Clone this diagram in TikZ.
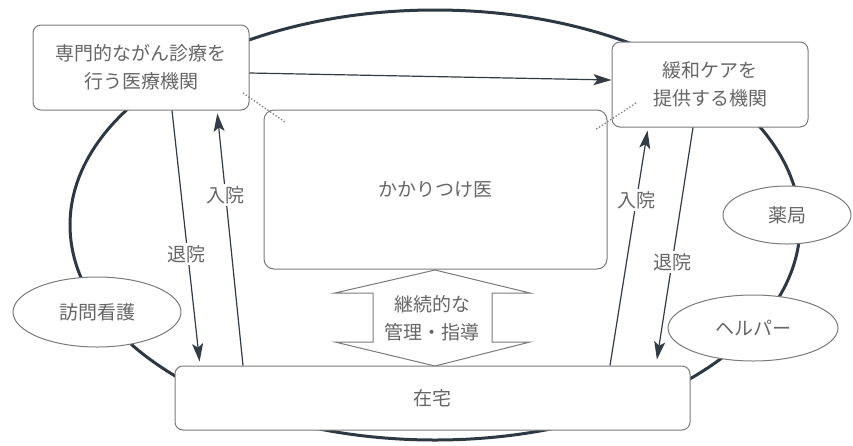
\documentclass[tikz,border=0pt]{standalone}
\usepackage{fontspec}
\newfontfamily\jp{Noto Sans CJK JP}
\usetikzlibrary{arrows.meta,shapes.geometric}
\definecolor{txt}{HTML}{666666}
\definecolor{edge}{HTML}{7A7A7A}
\definecolor{arrowc}{HTML}{333B44}
\definecolor{ringc}{HTML}{2E3843}
\begin{document}
\begin{tikzpicture}[x=1pt,y=-1pt,
  every node/.style={font=\jp\fontsize{19}{28}\selectfont, text=txt},
  box/.style={draw=edge, line width=1pt, rounded corners=8pt, fill=white, align=center, inner sep=0pt},
  oval/.style={draw=edge, line width=1pt, ellipse, fill=white, inner sep=0pt},
  ringline/.style={draw=ringc, line width=3pt},
  arr/.style={draw=arrowc, line width=1.2pt, -{Stealth[length=18pt,width=11pt,inset=4pt]}},
  lbl/.style={fill=white, inner sep=2pt},
  dots/.style={draw=edge, dotted, line width=1.3pt},
]
\useasboundingbox (0,0) rectangle (853,445);
\fill[white] (0,0) rectangle (853,445);

% outer ring
\draw[ringline] (435,225) ellipse [x radius=365pt, y radius=215pt];

% boxes
\node[box, minimum width=216pt, minimum height=85pt] (b1) at (141,67.5) {専門的ながん診療を\\行う医療機関};
\node[box, minimum width=196pt, minimum height=85pt] (b2) at (710,84.5) {緩和ケアを\\提供する機関};
\node[box, rounded corners=10pt, minimum width=343pt, minimum height=159pt] (b3) at (435.5,189.5) {かかりつけ医};
\node[box, minimum width=515pt, minimum height=64pt] (b4) at (432.5,398) {在宅};

% ovals
\node[oval, minimum width=168pt, minimum height=70pt] (hk) at (97,312) {訪問看護};
\node[oval, minimum width=128pt, minimum height=58pt] (yk) at (787,215) {薬局};
\node[oval, minimum width=170pt, minimum height=66pt] (hp) at (753,328) {ヘルパー};

% double arrow
\draw[draw=edge, line width=1pt, fill=white]
  (435,270) -- (530,293) -- (492,293) -- (492,342) -- (530,342) -- (435,366)
  -- (335,342) -- (373,342) -- (373,293) -- (335,293) -- cycle;
\node[align=center] (dbl) at (432,318) {継続的な\\管理・指導};

% dotted links
\coordinate (d1a) at (243,93);
\coordinate (d1b) at (285,122);
\coordinate (d2a) at (636,103);
\coordinate (d2b) at (595,130);
\draw[dots] (d1a) -- (d1b);
\draw[dots] (d2a) -- (d2b);

% arrows
\draw[arr] (b1.east |- 0,73) -- (b2.west |- 0,80);
\draw[arr, shorten >=4pt] (172,0 |- b1.south) -- (200,0 |- b4.north);
\draw[arr, shorten >=3pt] (243,0 |- b4.north) -- (217,0 |- b1.south);
\draw[arr, shorten >=3pt] (610,0 |- b4.north) -- (648,0 |- b2.south);
\draw[arr, shorten >=6pt] (693,0 |- b2.south) -- (656,0 |- b4.north);

% labels
\node[lbl] (l1) at (186,254) {退院};
\node[lbl] (l2) at (225,195) {入院};
\node[lbl] (l3) at (636,200) {入院};
\node[lbl] (l4) at (672,262) {退院};
\end{tikzpicture}
\end{document}
